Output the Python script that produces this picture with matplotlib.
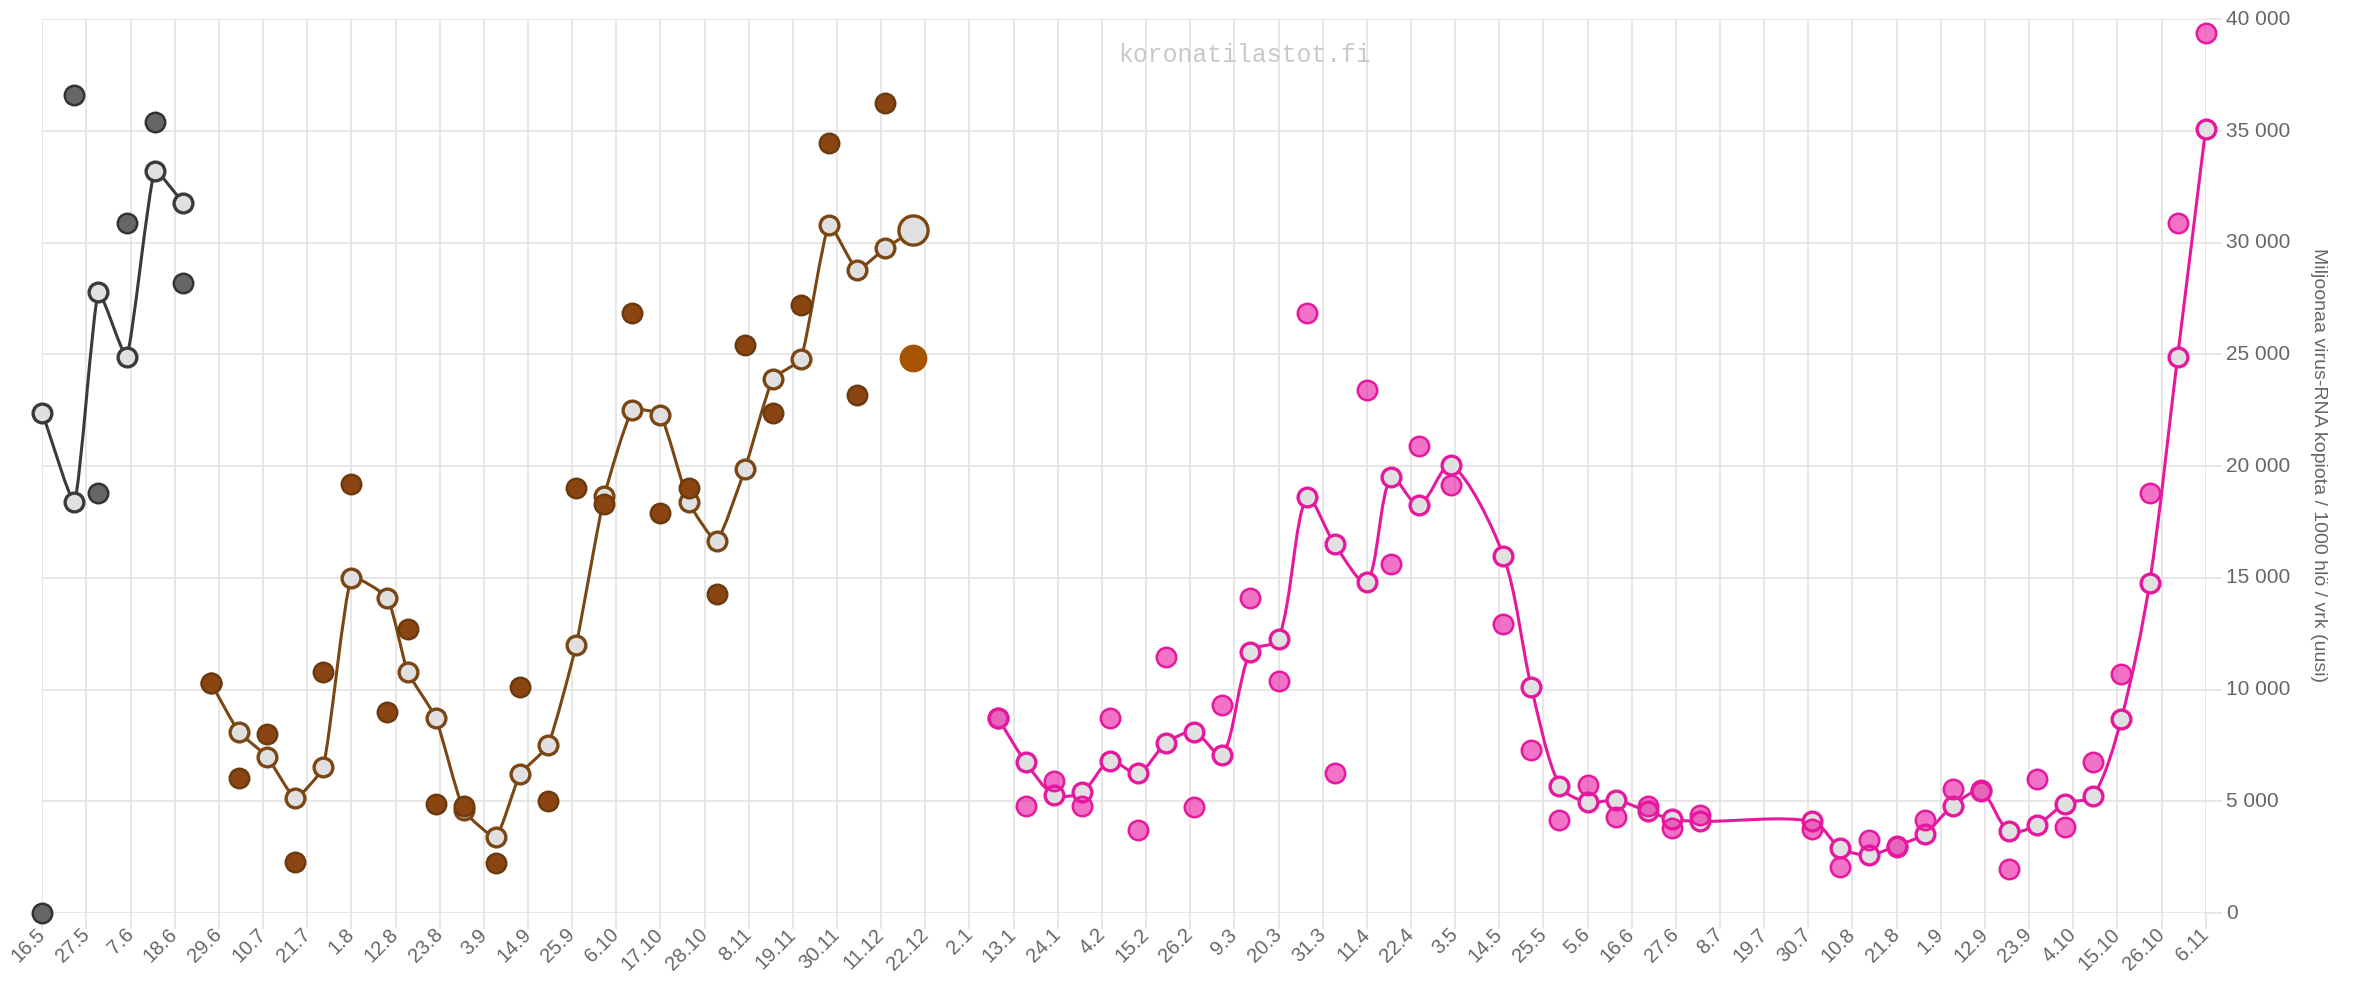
import numpy as np
import pandas as pd
import matplotlib
matplotlib.use("Agg")
import matplotlib.pyplot as plt
import matplotlib.dates as mdates
from matplotlib.path import Path
from matplotlib.patches import PathPatch

plt.rcParams['font.family'] = ['Liberation Sans', 'DejaVu Sans']

# ---------------- data ----------------
gray_dates = ["2022-05-16", "2022-05-24", "2022-05-30", "2022-06-06", "2022-06-13", "2022-06-20"]
gray_avg = [22400, 18400, 27800, 24900, 33200, 31800]
gray_obs = [0, 36600, 18800, 30900, 35400, 28200]

brown_dates = ["2022-06-27", "2022-07-04", "2022-07-11", "2022-07-18", "2022-07-25", "2022-08-01",
               "2022-08-10", "2022-08-15", "2022-08-22", "2022-08-29", "2022-09-06", "2022-09-12",
               "2022-09-19", "2022-09-26", "2022-10-03", "2022-10-10", "2022-10-17", "2022-10-24",
               "2022-10-31", "2022-11-07", "2022-11-14", "2022-11-21", "2022-11-28", "2022-12-05",
               "2022-12-12", "2022-12-19"]
brown_avg = [10300, 8100, 7000, 5150, 6550, 15000, 14100, 10800, 8750, 4600, 3400, 6200, 7500,
             12000, 18650, 22500, 22300, 18400, 16650, 19850, 23900, 24800, 30800, 28800, 29750, 30550]
brown_obs = [10300, 6050, 8000, 2300, 10800, 19200, 9000, 12700, 4900, 4800, 2250, 10100, 5000,
             19000, 18300, 26850, 17900, 19000, 14300, 25400, 22400, 27200, 34450, 23200, 36250, 24850]

pink_dates = ["2023-01-09", "2023-01-16", "2023-01-23", "2023-01-30", "2023-02-06", "2023-02-13",
              "2023-02-20", "2023-02-27", "2023-03-06", "2023-03-13", "2023-03-20", "2023-03-27",
              "2023-04-03", "2023-04-11", "2023-04-17", "2023-04-24", "2023-05-02", "2023-05-15",
              "2023-05-22", "2023-05-29", "2023-06-05", "2023-06-12", "2023-06-20", "2023-06-26",
              "2023-07-03", "2023-07-31", "2023-08-07", "2023-08-14", "2023-08-21", "2023-08-28",
              "2023-09-04", "2023-09-11", "2023-09-18", "2023-09-25", "2023-10-02", "2023-10-09",
              "2023-10-16", "2023-10-23", "2023-10-30", "2023-11-06"]
pink_avg = [8750, 6750, 5300, 5400, 6800, 6250, 7600, 8100, 7050, 11700, 12250, 18600, 16500,
            14800, 19500, 18250, 20050, 16000, 10100, 5700, 4950, 5050, 4550, 4200, 4100, 4100,
            2900, 2600, 3000, 3550, 4800, 5450, 3650, 3950, 4900, 5250, 8700, 14750, 24900, 35100]
pink_obs = [8750, 4800, 5900, 4800, 8750, 3700, 11450, 4750, 9300, 14100, 10400, 26850, 6250,
            23400, 15600, 20900, 19150, 12950, 7300, 4150, 5750, 4300, 4800, 3800, 4400, 3750,
            2050, 3250, 2950, 4150, 5550, 5500, 1950, 6000, 3850, 6750, 10700, 18800, 30900, 39400]

x_start = "2022-05-16"
x_end = "2023-11-06"
y_label = "Miljoonaa virus-RNA kopiota / 1000 hlö / vrk (uusi)"
grid_col = "#e3e3e3"
text_col = "#666666"
hollow_fill = "#e0e0e0"


def to_num(dates):
    return mdates.date2num(pd.to_datetime(dates))


def smooth_line(ax, xs, ys, color, tension, z):
    # bezier curve through the points, control points like Chart.js splineCurve
    pts = ax.transData.transform(np.column_stack([xs, ys]))
    n = len(pts)
    cp_in = np.zeros_like(pts)
    cp_out = np.zeros_like(pts)
    for i in range(n):
        prev = pts[max(i - 1, 0)]
        cur = pts[i]
        nxt = pts[min(i + 1, n - 1)]
        d01 = np.hypot(*(cur - prev))
        d12 = np.hypot(*(nxt - cur))
        tot = d01 + d12
        s01 = d01 / tot if tot > 0 else 0
        s12 = d12 / tot if tot > 0 else 0
        cp_in[i] = cur - tension * s01 * (nxt - prev)
        cp_out[i] = cur + tension * s12 * (nxt - prev)
    verts = [pts[0]]
    codes = [Path.MOVETO]
    for i in range(1, n):
        verts += [cp_out[i - 1], cp_in[i], pts[i]]
        codes += [Path.CURVE4] * 3
    verts = ax.transData.inverted().transform(np.array(verts))
    patch = PathPatch(Path(verts, codes), fill=False, edgecolor=color, lw=2.2,
                      zorder=z, clip_on=False)
    ax.add_patch(patch)


fig = plt.figure(figsize=(23.53, 9.88), dpi=100)
ax = fig.add_axes([0.01798, 0.07591, 0.93740 - 0.01798, 0.98047 - 0.07591])

ax.set_xlim(to_num([x_start])[0], to_num([x_end])[0])
ax.set_ylim(0, 40000)

ticks = pd.date_range(x_start, x_end, freq="11D")
ax.set_xticks(mdates.date2num(ticks))
ax.set_xticklabels([f"{d.day}.{d.month}" for d in ticks])
ax.set_yticks(np.arange(0, 40001, 5000))
ax.set_yticklabels([f"{int(v):,}".replace(",", " ") for v in np.arange(0, 40001, 5000)])

ax.yaxis.tick_right()
for s in ax.spines.values():
    s.set_visible(False)
ax.grid(True, color=grid_col, lw=1.2, zorder=0)
ax.set_axisbelow(True)
ax.tick_params(axis="x", length=11.5, width=1.2, color=grid_col, labelcolor=text_col,
               labelsize=14.5, pad=2)
ax.tick_params(axis="y", length=11.5, width=1.2, color=grid_col, labelcolor=text_col,
               labelsize=15, pad=3)
plt.setp(ax.get_xticklabels(), rotation=45, ha="right", va="center", rotation_mode="anchor")
for lab in ax.get_yticklabels():
    lab.set_verticalalignment("center")

series = [
    (gray_dates, gray_avg, gray_obs, "#3a3a3a", "#666666", "#333333", 0.15),
    (brown_dates, brown_avg, brown_obs, "#7a4614", "#8b4513", "#6b3a0e", 0.15),
    (pink_dates, pink_avg, pink_obs, "#e6189e", (0.91, 0.08, 0.63, 0.6), "#e6189e", 0.3),
]

for dates, avg, obs, line_col, dot_fill, dot_edge, tens in series:
    xs = to_num(dates)
    smooth_line(ax, xs, avg, line_col, tens, 2)
    ax.plot(xs, avg, ls="none", marker="o", ms=13.5, mfc=hollow_fill, mec=line_col,
            mew=2.4, zorder=3, clip_on=False)
    ax.plot(xs, obs, ls="none", marker="o", ms=14, mfc=dot_fill, mec=dot_edge,
            mew=1.8, zorder=4, clip_on=False)

# highlighted latest point of the brown series
last_x = to_num(brown_dates[-1:])
ax.plot(last_x, brown_avg[-1:], ls="none", marker="o", ms=21, mfc=hollow_fill, mec="#7a4614",
        mew=2.4, zorder=5, clip_on=False)
ax.plot(last_x, brown_obs[-1:], ls="none", marker="o", ms=19, mfc="#a65400", mec="#a65400",
        mew=1, zorder=5, clip_on=False)

fig.text(2319 / 2353, 1 - 465 / 988, y_label, rotation=270, ha="center", va="center",
         fontsize=14, color=text_col)
fig.text(1245 / 2353, 1 - 55 / 988, "koronatilastot.fi", family="Liberation Mono",
         fontsize=17.8, color="#c8c8c8", ha="center", va="center")

fig.savefig("out.png", dpi=100)
